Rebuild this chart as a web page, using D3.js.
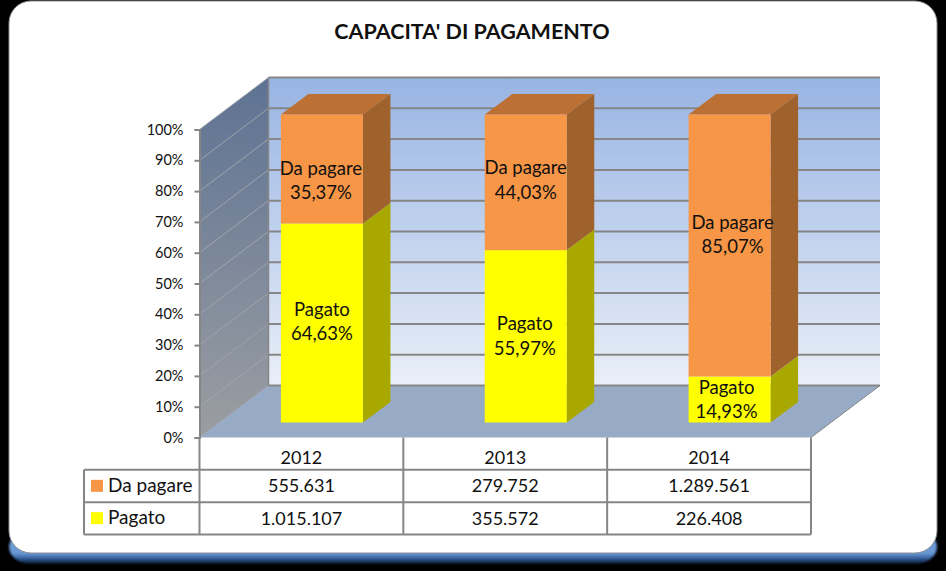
<!DOCTYPE html>
<html>
<head>
<meta charset="utf-8">
<script src="https://cdn.jsdelivr.net/npm/d3@7"></script>
<style>
  html, body { margin: 0; padding: 0; background: #000; }
  svg { display: block; }
  text { font-family: Lato, "Open Sans", sans-serif; fill: #111; }
</style>
</head>
<body>
<div class="chart"></div>
<script>
const WIDTH = 946;
const HEIGHT = 571;

const years = ['2012', '2013', '2014'];
const seriesNames = ['Pagato', 'Da pagare'];
const pagato = [1015107, 355572, 226408];
const daPagare = [555631, 279752, 1289561];
const yTicks = [0, 0.1, 0.2, 0.3, 0.4, 0.5, 0.6, 0.7, 0.8, 0.9, 1];

// 3d box offsets
const DEPTH_X = 69;
const DEPTH_Y = -52;
const BAR_OFF_X = 21;
const BAR_OFF_Y = -15;
const BAR_DX = 27.5;
const BAR_DY = -20.5;

const COLORS = {
  'Da pagare': { front: '#f79646', top: '#bd7033', side: '#a0622d' },
  Pagato: { front: '#ffff00', top: '#c4c400', side: '#a8a800' },
};
const GRID = '#868686';

const it = d3.formatLocale({ decimal: ',', thousands: '.', grouping: [3], currency: ['€', ''] });
const fmtPct = it.format('.2%');
const fmtNum = it.format(',d');

const rows = years.map((year, i) => ({ year, Pagato: pagato[i], 'Da pagare': daPagare[i] }));
const stacked = d3.stack().keys(seriesNames).offset(d3.stackOffsetExpand)(rows);

const x = d3.scaleBand().domain(years).range([199.5, 811]);
const y = d3.scaleLinear().domain([0, 1]).range([437.5, 129.5]);

const svg = d3.select('.chart').append('svg')
  .attr('width', WIDTH)
  .attr('height', HEIGHT);

const defs = svg.append('defs');
function vGrad(id, stops) {
  const g = defs.append('linearGradient').attr('id', id)
    .attr('x1', 0).attr('x2', 0).attr('y1', 0).attr('y2', 1);
  stops.forEach(([o, c]) => g.append('stop').attr('offset', o).attr('stop-color', c));
}
vGrad('wallBack', [[0, '#98b4e3'], [1, '#e9eff8']]);
vGrad('wallSide', [[0, '#5d7293'], [1, '#9b9ea2']]);
vGrad('edge', [[0, '#6a9ad6'], [0.68, '#6a9ad6'], [0.85, '#2f5a94'], [1, '#06101f']]);
defs.append('filter').attr('id', 'soft').append('feGaussianBlur').attr('stdDeviation', 0.8);

// panel
svg.append('rect').attr('width', WIDTH).attr('height', HEIGHT).attr('fill', '#000');
svg.append('rect')
  .attr('x', 9).attr('y', 530).attr('width', 928).attr('height', 34).attr('rx', 22)
  .attr('fill', 'url(#edge)').attr('filter', 'url(#soft)');
svg.append('rect')
  .attr('x', 9).attr('y', 1).attr('width', 928).attr('height', 552).attr('rx', 22)
  .attr('fill', '#fff').attr('stroke', '#8a8f96').attr('stroke-width', 1);

svg.append('text')
  .attr('x', 472).attr('y', 39)
  .attr('text-anchor', 'middle')
  .style('font-size', '21.5px')
  .style('font-weight', 700)
  .text("CAPACITA' DI PAGAMENTO");

const xL = x.range()[0];
const xR = x.range()[1];
const poly = (pts) => pts.map((p) => p.join(',')).join(' ');

// walls and floor
svg.append('polygon')
  .attr('points', poly([[xL + DEPTH_X, y(1) + DEPTH_Y], [xR + DEPTH_X, y(1) + DEPTH_Y], [xR + DEPTH_X, y(0) + DEPTH_Y], [xL + DEPTH_X, y(0) + DEPTH_Y]]))
  .attr('fill', 'url(#wallBack)');
svg.append('polygon')
  .attr('points', poly([[xL, y(1)], [xL + DEPTH_X, y(1) + DEPTH_Y], [xL + DEPTH_X, y(0) + DEPTH_Y], [xL, y(0)]]))
  .attr('fill', 'url(#wallSide)');
svg.append('polygon')
  .attr('points', poly([[xL, y(0)], [xR, y(0)], [xR + DEPTH_X, y(0) + DEPTH_Y], [xL + DEPTH_X, y(0) + DEPTH_Y]]))
  .attr('fill', '#98abc6');

// gridlines
const grid = svg.append('g');
grid.selectAll('line.back').data(yTicks).enter().append('line')
  .attr('class', 'back')
  .attr('x1', xL + DEPTH_X).attr('x2', xR + DEPTH_X)
  .attr('y1', (d) => y(d) + DEPTH_Y).attr('y2', (d) => y(d) + DEPTH_Y)
  .attr('stroke', GRID).attr('stroke-width', 2);
grid.selectAll('line.side').data(yTicks).enter().append('line')
  .attr('class', 'side')
  .attr('x1', xL).attr('x2', xL + DEPTH_X)
  .attr('y1', (d) => y(d)).attr('y2', (d) => y(d) + DEPTH_Y)
  .attr('stroke', '#a0a4aa').attr('stroke-width', 1);
svg.append('line')
  .attr('x1', xL + DEPTH_X).attr('x2', xL + DEPTH_X)
  .attr('y1', y(1) + DEPTH_Y).attr('y2', y(0) + DEPTH_Y)
  .attr('stroke', GRID).attr('stroke-width', 1.5);
svg.append('line')
  .attr('x1', xR).attr('x2', xR + DEPTH_X)
  .attr('y1', y(0)).attr('y2', y(0) + DEPTH_Y)
  .attr('stroke', GRID).attr('stroke-width', 1);

// y axis
const yAxis = d3.axisLeft(y).tickValues(yTicks).tickFormat(d3.format('.0%')).tickSize(5).tickPadding(11);
const axisG = svg.append('g').attr('transform', `translate(${xL},0)`).call(yAxis);
axisG.selectAll('line, path').attr('stroke', GRID).attr('stroke-width', 2);
axisG.selectAll('text').style('font-size', '14.5px').style('font-family', 'Lato, sans-serif').attr('fill', '#111');

// bars
const barW = 82;
const barLeft = (year) => x(year) + (x.bandwidth() - barW) / 2 + BAR_OFF_X - 0.5;
const barY = (v) => y(v) + BAR_OFF_Y;

stacked.forEach((layer) => {
  const c = COLORS[layer.key];
  const g = svg.append('g').attr('class', 'series');
  layer.forEach((d) => {
    const year = d.data.year;
    const l = barLeft(year);
    const top = barY(d[1]);
    const bot = barY(d[0]);
    g.append('polygon')
      .attr('points', poly([[l + barW, top], [l + barW + BAR_DX, top + BAR_DY], [l + barW + BAR_DX, bot + BAR_DY], [l + barW, bot]]))
      .attr('fill', c.side);
    if (d[1] === 1) {
      g.append('polygon')
        .attr('points', poly([[l, top], [l + BAR_DX, top + BAR_DY], [l + barW + BAR_DX, top + BAR_DY], [l + barW, top]]))
        .attr('fill', c.top);
    }
    g.append('rect')
      .attr('x', l).attr('y', top).attr('width', barW).attr('height', bot - top)
      .attr('fill', c.front);
  });
});

// data labels, hand placed in the original so they get a small nudge
const labelNudge = {
  'Pagato 2012': [0, -1], 'Pagato 2013': [-1, 0], 'Pagato 2014': [-3, 0],
  'Da pagare 2012': [-1, 12], 'Da pagare 2013': [0, -2], 'Da pagare 2014': [3, -11],
};
stacked.forEach((layer) => {
  layer.forEach((d) => {
    const year = d.data.year;
    const [nx, ny] = labelNudge[`${layer.key} ${year}`];
    const cx = barLeft(year) + barW / 2 + nx;
    const cy = (barY(d[0]) + barY(d[1])) / 2 + ny;
    const t = svg.append('text')
      .attr('text-anchor', 'middle')
      .style('font-size', '18.5px');
    t.append('tspan').attr('x', cx).attr('y', cy - 6).text(layer.key);
    t.append('tspan').attr('x', cx).attr('y', cy + 18.5).text(fmtPct(d[1] - d[0]));
  });
});

// data table
const tableRows = [
  { name: 'Da pagare', values: daPagare },
  { name: 'Pagato', values: pagato },
];
const tableLeft = 84;
const rowY = d3.scaleBand().domain(['head', 'Da pagare', 'Pagato']).range([y(0), 534.5]);
const table = svg.append('g').attr('class', 'table');
const tLine = (x1, y1, x2, y2) => table.append('line')
  .attr('x1', x1).attr('y1', y1).attr('x2', x2).attr('y2', y2)
  .attr('stroke', GRID).attr('stroke-width', 2);

tLine(xL, y(0), xL, rowY('Pagato') + rowY.bandwidth());
[...years.map((yr) => x(yr) + x.bandwidth())].forEach((px) => tLine(px, y(0), px, rowY('Pagato') + rowY.bandwidth()));
tLine(tableLeft, rowY('Da pagare'), tableLeft, rowY('Pagato') + rowY.bandwidth());
tLine(tableLeft, rowY('Da pagare'), xR, rowY('Da pagare'));
tLine(tableLeft, rowY('Pagato'), xR, rowY('Pagato'));
tLine(tableLeft, rowY('Pagato') + rowY.bandwidth(), xR, rowY('Pagato') + rowY.bandwidth());

const cellText = (px, py, s, anchor, size) => table.append('text')
  .attr('x', px).attr('y', py)
  .attr('text-anchor', anchor)
  .style('font-size', size)
  .text(s);

years.forEach((yr) => cellText(x(yr) + x.bandwidth() / 2, rowY('head') + 26.5, yr, 'middle', '18px'));
tableRows.forEach((row) => {
  const ry = rowY(row.name);
  table.append('rect')
    .attr('x', 91).attr('y', ry + 10).attr('width', 12).attr('height', 12)
    .attr('fill', COLORS[row.name].front);
  cellText(108, ry + 22, row.name, 'start', '19px');
  row.values.forEach((v, i) => cellText(x(years[i]) + x.bandwidth() / 2, ry + 22.5, fmtNum(v), 'middle', '18px'));
});
</script>
</body>
</html>
